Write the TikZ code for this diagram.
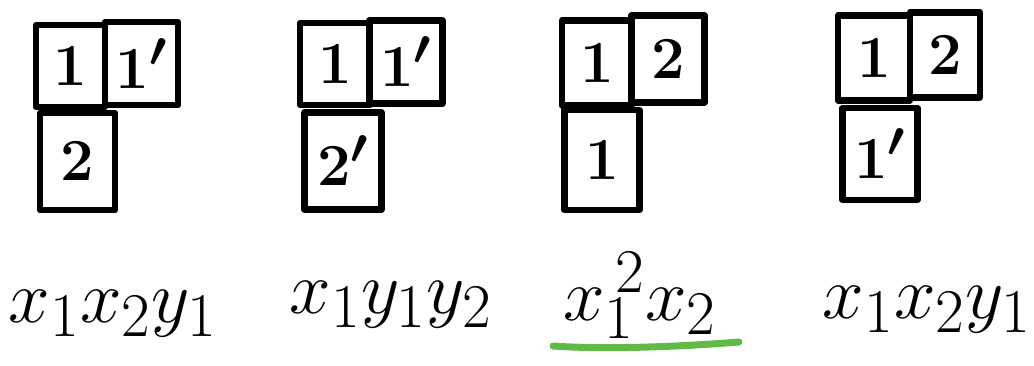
\documentclass[tikz,border=0pt]{standalone}
\usepackage{graphicx}
\definecolor{hlgreen}{RGB}{98,186,70}
\newcommand{\celltxt}[1]{\scalebox{2.4}{\Huge\boldmath $#1$}}
\newcommand{\monotxt}[1]{\scalebox{3}{\Huge $#1$}}
\tikzset{
  cell/.style={draw=black, line width=6.5pt, line join=round, rectangle, inner sep=0pt},
  mono/.style={anchor=base, inner sep=0pt},
  uline/.style={draw=hlgreen, line width=7pt, line cap=round}
}
\begin{document}
\begin{tikzpicture}[x=1pt,y=1pt]
\useasboundingbox (0,0) rectangle (1034,-366);
% tableau 1
\node[cell, minimum width=69pt, minimum height=82pt] (a11) at (70.5,-66) {\celltxt{1}};
\node[cell, minimum width=73pt, minimum height=83pt] (a12) at (141.5,-63.5) {\celltxt{1'}};
\node[cell, minimum width=75pt, minimum height=97pt] (a21) at (77.5,-161.5) {\celltxt{2}};
% tableau 2
\node[cell, minimum width=70pt, minimum height=82pt] (b11) at (335,-64) {\celltxt{1}};
\node[cell, minimum width=73pt, minimum height=83pt] (b12) at (406,-62) {\celltxt{1'}};
\node[cell, minimum width=77pt, minimum height=97pt] (b21) at (343,-161) {\celltxt{2'}};
% tableau 3
\node[cell, minimum width=70pt, minimum height=85pt] (c11) at (597,-63) {\celltxt{1}};
\node[cell, minimum width=73pt, minimum height=87pt] (c12) at (668,-59) {\celltxt{2}};
\node[cell, minimum width=75pt, minimum height=100pt] (c21) at (602,-160) {\celltxt{1}};
% tableau 4
\node[cell, minimum width=72pt, minimum height=85pt] (d11) at (874,-58) {\celltxt{1}};
\node[cell, minimum width=70pt, minimum height=85pt] (d12) at (945,-55) {\celltxt{2}};
\node[cell, minimum width=75pt, minimum height=92pt] (d21) at (880,-154) {\celltxt{1'}};
% monomials
\node[mono] (m1) at (113,-322) {\monotxt{x_1x_2y_1}};
\node[mono] (m2) at (391,-313) {\monotxt{x_1y_1y_2}};
\node[mono] (m3) at (640,-320) {\monotxt{x_1^{\,2}x_2}};
\node[mono] (m4) at (927,-318) {\monotxt{x_1x_2y_1}};
% green underline
\coordinate (u1) at (553,-346);
\coordinate (u2) at (739,-342);
\draw[uline] (u1) .. controls (610,-350) and (690,-346) .. (u2);
\end{tikzpicture}
\end{document}
